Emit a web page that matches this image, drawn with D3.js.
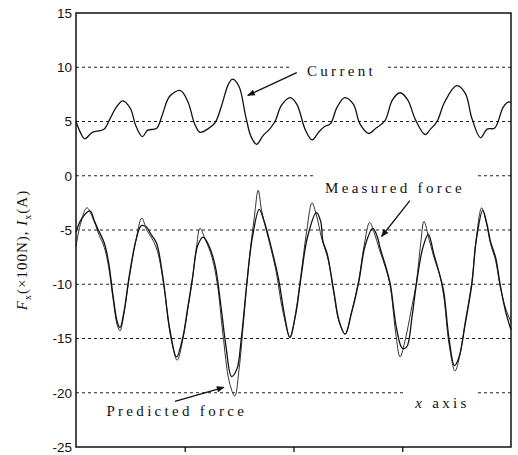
<!DOCTYPE html>
<html>
<head>
<meta charset="utf-8">
<script src="https://cdn.jsdelivr.net/npm/d3@7"></script>
<style>
  body { margin: 0; background: #fff; }
  svg { display: block; }
  .axis text { font-family: "Liberation Sans", Arial, sans-serif; font-size: 13.5px; fill: #111; }
  .note { font-family: "Liberation Serif", "Times New Roman", serif; font-size: 15px; letter-spacing: 3.3px; fill: #111; }
</style>
</head>
<body>
<svg id="chart" width="518" height="455"></svg>
<script>
// y ticks (gridlines on the inner ones)
var yTicks = [-25, -20, -15, -10, -5, 0, 5, 10, 15];
var gridValues = [-20, -15, -10, -5, 0, 5, 10];
var xTicks = [1, 2, 3];

// current, I_x  [t, value]
var current = [
  [0.00, 5.0], [0.04, 4.0], [0.08, 3.4], [0.15, 4.0], [0.22, 4.15], [0.26, 4.3],
  [0.31, 5.2], [0.37, 6.3], [0.43, 6.9], [0.50, 6.2], [0.55, 4.6], [0.61, 3.6],
  [0.66, 4.2], [0.74, 4.35], [0.79, 5.5], [0.86, 7.3], [0.96, 7.85], [1.03, 6.8],
  [1.09, 4.8], [1.14, 4.0], [1.21, 4.3], [1.28, 4.9], [1.34, 6.5], [1.40, 8.4],
  [1.44, 8.9], [1.50, 8.2], [1.56, 5.5], [1.61, 3.6], [1.66, 2.9], [1.72, 3.7],
  [1.78, 4.3], [1.83, 5.0], [1.89, 6.5], [1.97, 7.2], [2.03, 6.6], [2.11, 4.2],
  [2.17, 3.3], [2.23, 4.0], [2.28, 4.5], [2.34, 4.8], [2.40, 6.3], [2.47, 7.2],
  [2.55, 6.6], [2.61, 4.8], [2.69, 3.9], [2.76, 4.4], [2.84, 5.05], [2.91, 7.0],
  [2.98, 7.65], [3.05, 7.0], [3.12, 5.2], [3.21, 3.8], [3.26, 4.3], [3.32, 5.0],
  [3.39, 6.8], [3.50, 8.3], [3.58, 7.6], [3.64, 5.3], [3.72, 3.5], [3.78, 4.3],
  [3.85, 4.4], [3.93, 6.35], [3.98, 6.8], [4.00, 6.7]
];

// measured force, F_x (x100 N)
var measured = [
  [0.00, -5.2], [0.05, -4.0], [0.13, -3.25], [0.17, -4.2], [0.21, -5.1], [0.26, -6.2],
  [0.30, -8.0], [0.34, -11.0], [0.38, -13.5], [0.405, -14.0], [0.44, -12.6], [0.49, -9.2],
  [0.55, -6.0], [0.60, -4.6], [0.645, -4.7], [0.69, -5.4], [0.74, -6.2], [0.80, -9.4],
  [0.86, -14.0], [0.925, -16.7], [0.98, -15.0], [1.03, -12.0], [1.07, -9.5], [1.12, -6.4],
  [1.17, -5.65], [1.22, -6.4], [1.28, -8.3], [1.33, -11.8], [1.38, -15.8], [1.43, -18.5],
  [1.48, -17.8], [1.52, -15.0], [1.57, -10.0], [1.62, -5.8], [1.685, -3.1], [1.73, -4.2],
  [1.79, -6.4], [1.86, -9.4], [1.92, -13.0], [1.965, -14.9], [2.02, -12.8], [2.07, -9.3],
  [2.13, -5.6], [2.21, -3.4], [2.25, -4.2], [2.27, -6.0], [2.31, -7.2], [2.37, -10.6],
  [2.42, -13.4], [2.475, -14.6], [2.53, -12.8], [2.60, -9.8], [2.66, -6.4], [2.73, -4.85],
  [2.77, -5.6], [2.80, -6.8], [2.85, -8.4], [2.89, -10.0], [2.95, -14.2], [3.00, -15.9],
  [3.04, -15.8], [3.09, -13.0], [3.13, -10.0], [3.19, -6.6], [3.24, -5.4], [3.29, -7.2],
  [3.33, -8.6], [3.38, -10.6], [3.43, -15.0], [3.48, -17.5], [3.52, -16.8], [3.58, -13.6],
  [3.64, -10.0], [3.68, -6.0], [3.74, -3.2], [3.78, -4.5], [3.81, -6.0], [3.86, -7.6],
  [3.90, -10.0], [3.95, -12.5], [4.00, -14.2]
];

// predicted force
var predicted = [
  [0.00, -6.5], [0.04, -4.5], [0.10, -2.95], [0.15, -3.8], [0.21, -5.4], [0.26, -6.6],
  [0.30, -8.4], [0.34, -11.3], [0.38, -13.8], [0.405, -14.3], [0.44, -12.8], [0.49, -9.4],
  [0.55, -6.0], [0.605, -3.9], [0.65, -5.0], [0.70, -5.8], [0.75, -7.0], [0.81, -10.3],
  [0.87, -14.8], [0.93, -17.0], [0.98, -15.2], [1.03, -12.2], [1.07, -9.6], [1.11, -6.4],
  [1.14, -4.85], [1.19, -5.9], [1.25, -7.5], [1.30, -10.0], [1.35, -14.5], [1.41, -19.0],
  [1.46, -20.3], [1.50, -17.8], [1.54, -13.5], [1.59, -8.0], [1.64, -3.8], [1.675, -1.35],
  [1.71, -3.4], [1.77, -5.8], [1.84, -8.8], [1.90, -12.4], [1.97, -14.9], [2.02, -12.6],
  [2.07, -9.0], [2.12, -5.2], [2.17, -2.5], [2.21, -3.6], [2.26, -5.8], [2.32, -7.8],
  [2.37, -10.8], [2.42, -13.5], [2.475, -14.6], [2.53, -12.7], [2.60, -9.6], [2.65, -6.4],
  [2.70, -4.3], [2.74, -5.2], [2.79, -6.8], [2.85, -8.6], [2.89, -10.2], [2.94, -14.5],
  [2.98, -16.7], [3.03, -15.0], [3.08, -12.5], [3.13, -9.8], [3.17, -6.2], [3.20, -4.2],
  [3.25, -6.0], [3.30, -7.8], [3.34, -9.0], [3.38, -11.0], [3.43, -15.5], [3.485, -18.0],
  [3.53, -16.5], [3.58, -13.4], [3.64, -9.8], [3.68, -5.8], [3.73, -2.95], [3.77, -4.2],
  [3.81, -6.2], [3.86, -7.9], [3.90, -10.2], [3.95, -12.2], [4.00, -13.5]
];

var svg = d3.select('#chart');
var margin = {top: 13, right: 7, bottom: 8, left: 76};
var width = +svg.attr('width'), height = +svg.attr('height');

var x = d3.scaleLinear().domain([0, 4]).range([margin.left, width - margin.right]);
var y = d3.scaleLinear().domain([-25, 15]).range([height - margin.bottom, margin.top]);

// dotted gridlines
svg.append('g')
  .selectAll('line')
  .data(gridValues)
  .enter().append('line')
    .attr('x1', x(0)).attr('x2', x(4))
    .attr('y1', d => y(d)).attr('y2', d => y(d))
    .attr('stroke', '#222')
    .attr('stroke-width', 1)
    .attr('stroke-dasharray', '3,3');

// gaps in the grid behind the labels
var gaps = [
  {t0: 1.97, t1: 2.86, v0: 10.5, v1: 9.4},
  {t0: 2.18, t1: 3.68, v0: 0.5, v1: -0.5},
  {t0: 3.01, t1: 3.69, v0: -19.5, v1: -20.5}
];
svg.append('g')
  .selectAll('rect')
  .data(gaps)
  .enter().append('rect')
    .attr('x', d => x(d.t0)).attr('width', d => x(d.t1) - x(d.t0))
    .attr('y', d => y(d.v0)).attr('height', d => y(d.v1) - y(d.v0))
    .attr('fill', '#fff');

var line = d3.line()
  .x(d => x(d[0]))
  .y(d => y(d[1]))
  .curve(d3.curveCatmullRom.alpha(0.5));

svg.append('path').datum(current)
  .attr('d', line).attr('fill', 'none').attr('stroke', '#111').attr('stroke-width', 1.3);
svg.append('path').datum(predicted)
  .attr('d', line).attr('fill', 'none').attr('stroke', '#333').attr('stroke-width', 1);
svg.append('path').datum(measured)
  .attr('d', line).attr('fill', 'none').attr('stroke', '#111').attr('stroke-width', 1.3);

// axes
var yAxis = d3.axisLeft(y).tickValues(yTicks).tickSize(0).tickPadding(4).tickFormat(d => String(d));
svg.append('g')
  .classed('axis', true)
  .attr('transform', `translate(${margin.left}, 0)`)
  .call(yAxis)
  .call(g => g.select('.domain').remove());

var xAxis = d3.axisBottom(x).tickValues(xTicks).tickSize(5).tickFormat('');
svg.append('g')
  .classed('axis', true)
  .attr('transform', `translate(0, ${y(-25)})`)
  .call(xAxis)
  .call(g => g.select('.domain').remove())
  .call(g => g.selectAll('line').attr('stroke', '#111').attr('stroke-width', 1.3));

// frame
svg.append('rect')
  .attr('x', x(0)).attr('y', y(15))
  .attr('width', x(4) - x(0)).attr('height', y(-25) - y(15))
  .attr('fill', 'none').attr('stroke', '#111').attr('stroke-width', 1.5);

// annotations
svg.append('defs').append('marker')
  .attr('id', 'head')
  .attr('viewBox', '0 0 10 10')
  .attr('refX', 9).attr('refY', 5)
  .attr('markerWidth', 8).attr('markerHeight', 6)
  .attr('orient', 'auto')
  .append('path').attr('d', 'M0,1 L10,5 L0,9 Z').attr('fill', '#111');

var notes = [
  {text: 'Current', t: 2.124, v: 9.2, from: [2.03, 9.5], to: [1.58, 7.4]},
  {text: 'Measured force', t: 2.29, v: -1.6, from: [3.07, -2.3], to: [2.81, -5.6]},
  {text: 'Predicted force', t: 0.28, v: -22.1, from: [0.91, -20.8], to: [1.36, -19.5]}
];
notes.forEach(function(n) {
  svg.append('text').classed('note', true)
    .attr('x', x(n.t)).attr('y', y(n.v)).text(n.text);
  svg.append('line')
    .attr('x1', x(n.from[0])).attr('y1', y(n.from[1]))
    .attr('x2', x(n.to[0])).attr('y2', y(n.to[1]))
    .attr('stroke', '#111').attr('stroke-width', 1.3)
    .attr('marker-end', 'url(#head)');
});

var xLab = svg.append('text').classed('note', true)
  .attr('x', x(3.12)).attr('y', y(-21.4));
xLab.append('tspan').style('font-style', 'italic').text('x');
xLab.append('tspan').text(' axis');

// y label
var yLab = svg.append('text').classed('note', true)
  .attr('transform', `translate(27, ${(y(15) + y(-25)) / 2 + 20}) rotate(-90)`)
  .attr('text-anchor', 'middle')
  .style('letter-spacing', '1px');
yLab.append('tspan').style('font-style', 'italic').text('F');
yLab.append('tspan').attr('dy', 4).style('font-size', '10px').text('x');
yLab.append('tspan').attr('dy', -4).text('(×100N), ');
yLab.append('tspan').style('font-style', 'italic').text('I');
yLab.append('tspan').attr('dy', 4).style('font-size', '10px').text('x');
yLab.append('tspan').attr('dy', -4).text('(A)');
</script>
</body>
</html>
